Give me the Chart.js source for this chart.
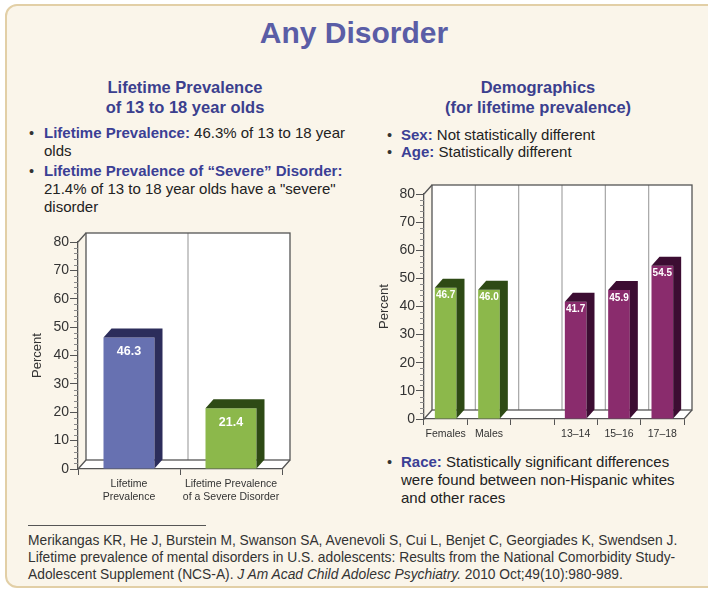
<!DOCTYPE html>
<html>
<head>
<meta charset="utf-8">
<script src="https://cdn.jsdelivr.net/npm/chart.js@4.4.0/dist/chart.umd.min.js"></script>
<style>
  body { margin: 0; background: #fff; font-family: "Liberation Sans", Arial, sans-serif; }
  #page { position: relative; width: 708px; height: 590px; overflow: hidden; }
  #frame { position: absolute; left: 5px; top: 4px; width: 730px; height: 580px;
           border: 2px solid #e2cfa6; border-radius: 12px; background: #faf5ea; }
  .t { position: absolute; white-space: nowrap; color: #222; }
  .hd { font-weight: bold; color: #3b3f8e; text-align: center; font-size: 16.5px; line-height: 20px; }
  .bl { font-size: 15px; line-height: 18px; }
  .bl b { color: #3b3f95; }
  .dot { position: absolute; font-size: 14.5px; line-height: 18px; color: #333; }
  .fn { font-size: 13.8px; line-height: 17px; color: #333; }
  canvas { position: absolute; }
</style>
</head>
<body>
<div id="page">
  <div id="frame"></div>

  <div class="t" style="left:0;width:708px;top:18px;text-align:center;font-size:30px;line-height:30px;font-weight:bold;color:#5a5da6">Any Disorder</div>

  <div class="t hd" style="left:85px;width:200px;top:77px">Lifetime Prevalence<br>of 13 to 18 year olds</div>
  <div class="dot" style="left:29px;top:124px">•</div>
  <div class="t bl" style="left:44px;top:124px"><b>Lifetime Prevalence:</b> 46.3% of 13 to 18 year<br>olds</div>
  <div class="dot" style="left:29px;top:162px">•</div>
  <div class="t bl" style="left:44px;top:162px"><b>Lifetime Prevalence of “Severe” Disorder:</b><br>21.4% of 13 to 18 year olds have a "severe"<br>disorder</div>

  <div class="t hd" style="left:438px;width:200px;top:77px">Demographics<br>(for lifetime prevalence)</div>
  <div class="dot" style="left:387px;top:126px">•</div>
  <div class="t bl" style="left:401px;top:126px;line-height:17px"><b>Sex:</b> Not statistically different</div>
  <div class="dot" style="left:387px;top:143px">•</div>
  <div class="t bl" style="left:401px;top:143px;line-height:17px"><b>Age:</b> Statistically different</div>

  <div class="dot" style="left:387px;top:453px">•</div>
  <div class="t bl" style="left:401px;top:453px"><b>Race:</b> Statistically significant differences<br>were found between non-Hispanic whites<br>and other races</div>

  <div style="position:absolute;left:28px;top:525px;width:178px;height:1px;background:#555"></div>
  <div class="t fn" style="left:28px;top:532px">Merikangas KR, He J, Burstein M, Swanson SA, Avenevoli S, Cui L, Benjet C, Georgiades K, Swendsen J.<br>Lifetime prevalence of mental disorders in U.S. adolescents: Results from the National Comorbidity Study-<br>Adolescent Supplement (NCS-A). <i>J Am Acad Child Adolesc Psychiatry.</i> 2010 Oct;49(10):980-989.</div>

  <canvas id="overallChart" width="310" height="300" style="left:0;top:220px"></canvas>
  <canvas id="demoChart" width="348" height="280" style="left:360px;top:175px"></canvas>
</div>

<script>
// data
const overallLabels = [['Lifetime', 'Prevalence'], ['Lifetime Prevalence', 'of a Severe Disorder']];
const overallValues = [46.3, 21.4];
const overallFront = ['#6771b1', '#8cb84b'];
const overallDark = ['#2c2d5b', '#2e4a15'];

const demoLabels = ['Females', 'Males', '', '13–14', '15–16', '17–18'];
const demoValues = [46.7, 46.0, null, 41.7, 45.9, 54.5];
const demoFront = ['#8cb84b', '#8cb84b', '#8cb84b', '#8a2c6d', '#8a2c6d', '#8a2c6d'];
const demoDark = ['#2e4a15', '#2e4a15', '#2e4a15', '#3c0d32', '#3c0d32', '#3c0d32'];

const yMax = 80;
const yStep = 10;
const yMinorStep = 2;

const FONT = '"Liberation Sans", Arial, sans-serif';

// draws the box walls, floor, bar sides and labels
const box3d = {
    id: 'box3d',
    beforeDraw(chart, args, opts) {
        const {ctx, chartArea: a, scales} = chart;
        const dx = opts.dx, dy = opts.dy;
        ctx.save();
        // back wall
        ctx.fillStyle = '#fff';
        ctx.fillRect(a.left + dx, a.top + dy, a.right - a.left, a.bottom - a.top);
        // floor
        ctx.beginPath();
        ctx.moveTo(a.left, a.bottom);
        ctx.lineTo(a.right, a.bottom);
        ctx.lineTo(a.right + dx, a.bottom + dy);
        ctx.lineTo(a.left + dx, a.bottom + dy);
        ctx.closePath();
        ctx.fill();
        // category dividers on back wall
        const x = scales.x;
        ctx.strokeStyle = '#a5a5a5';
        ctx.lineWidth = 1.2;
        for (let i = 1; i < x.ticks.length; i++) {
            const px = (x.getPixelForTick(i - 1) + x.getPixelForTick(i)) / 2 + dx;
            ctx.beginPath();
            ctx.moveTo(px, a.top + dy);
            ctx.lineTo(px, a.bottom + dy);
            ctx.stroke();
        }
        // outlines
        ctx.strokeStyle = '#555';
        ctx.lineWidth = 1.3;
        ctx.strokeRect(a.left + dx, a.top + dy, a.right - a.left, a.bottom - a.top);
        ctx.beginPath();
        ctx.moveTo(a.left, a.top); ctx.lineTo(a.left + dx, a.top + dy);
        ctx.moveTo(a.left, a.bottom); ctx.lineTo(a.left + dx, a.bottom + dy);
        ctx.moveTo(a.right, a.bottom); ctx.lineTo(a.right + dx, a.bottom + dy);
        ctx.stroke();
        ctx.restore();
    },
    afterDatasetsDraw(chart, args, opts) {
        const {ctx} = chart;
        const dx = opts.dx, dy = opts.dy;
        const ds = chart.data.datasets[0];
        const meta = chart.getDatasetMeta(0);
        ctx.save();
        meta.data.forEach((bar, i) => {
            const v = ds.data[i];
            if (v === null || v === undefined) return;
            const {x, y, base, width} = bar.getProps(['x', 'y', 'base', 'width'], true);
            const x0 = x - width / 2, x1 = x + width / 2;
            ctx.fillStyle = opts.dark[i];
            ctx.beginPath();
            ctx.moveTo(x0, y);
            ctx.lineTo(x0 + dx, y + dy);
            ctx.lineTo(x1 + dx, y + dy);
            ctx.lineTo(x1 + dx, base + dy);
            ctx.lineTo(x1, base);
            ctx.lineTo(x1, y);
            ctx.closePath();
            ctx.fill();
            ctx.fillStyle = '#fff';
            ctx.font = 'bold ' + opts.labelSize + 'px ' + FONT;
            ctx.textAlign = 'center';
            ctx.textBaseline = 'middle';
            ctx.fillText(v.toFixed(1), x, y + opts.labelOffset);
        });
        // minor ticks on the value axis
        const ys = chart.scales.y;
        ctx.strokeStyle = '#888';
        ctx.lineWidth = 1;
        for (let v = 0; v <= yMax; v += yMinorStep) {
            if (v % yStep === 0) continue;
            const py = Math.round(ys.getPixelForValue(v)) + 0.5;
            ctx.beginPath();
            ctx.moveTo(ys.right - 4, py);
            ctx.lineTo(ys.right, py);
            ctx.stroke();
        }
        ctx.restore();
    }
};

function makeChart(id, labels, values, front, dark, o) {
    return new Chart(document.getElementById(id), {
        type: 'bar',
        data: {
            labels: labels,
            datasets: [{
                data: values,
                backgroundColor: front,
                borderWidth: 0,
                barPercentage: 0.5,
                categoryPercentage: 1
            }]
        },
        options: {
            responsive: false,
            animation: false,
            events: [],
            layout: { padding: o.padding },
            plugins: {
                legend: { display: false },
                tooltip: { enabled: false },
                box3d: { dx: o.dx, dy: o.dy, dark: dark, labelSize: o.labelSize, labelOffset: o.labelOffset }
            },
            scales: {
                x: {
                    afterFit: s => { s.height = o.xHeight; },
                    grid: { drawOnChartArea: false, tickLength: 6, color: '#555', offset: true },
                    border: { color: '#555', width: 1.3 },
                    ticks: { color: '#333', font: { family: FONT, size: o.xFont }, padding: 3, maxRotation: 0, autoSkip: false }
                },
                y: {
                    min: 0,
                    max: yMax,
                    afterFit: s => { s.width = o.yWidth; },
                    grid: { drawOnChartArea: false, tickLength: 8, color: '#555' },
                    border: { color: '#555', width: 1.3 },
                    ticks: { stepSize: yStep, color: '#333', font: { family: FONT, size: 14 }, padding: 1 },
                    title: { display: true, text: 'Percent', color: '#333', font: { family: FONT, size: 13 }, padding: { top: o.titlePad, bottom: 0 } }
                }
            }
        },
        plugins: [box3d]
    });
}

makeChart('overallChart', overallLabels, overallValues, overallFront, overallDark, {
    padding: { top: 22, right: 28, bottom: 0, left: 0 },
    yWidth: 78, xHeight: 51, xFont: 10.5, titlePad: 30,
    dx: 8, dy: -9, labelSize: 12.5, labelOffset: 14
});

makeChart('demoChart', demoLabels, demoValues, demoFront, demoDark, {
    padding: { top: 19, right: 24, bottom: 0, left: 0 },
    yWidth: 64, xHeight: 36, xFont: 10.5, titlePad: 17,
    dx: 8, dy: -9, labelSize: 10, labelOffset: 8
});
</script>
</body>
</html>
